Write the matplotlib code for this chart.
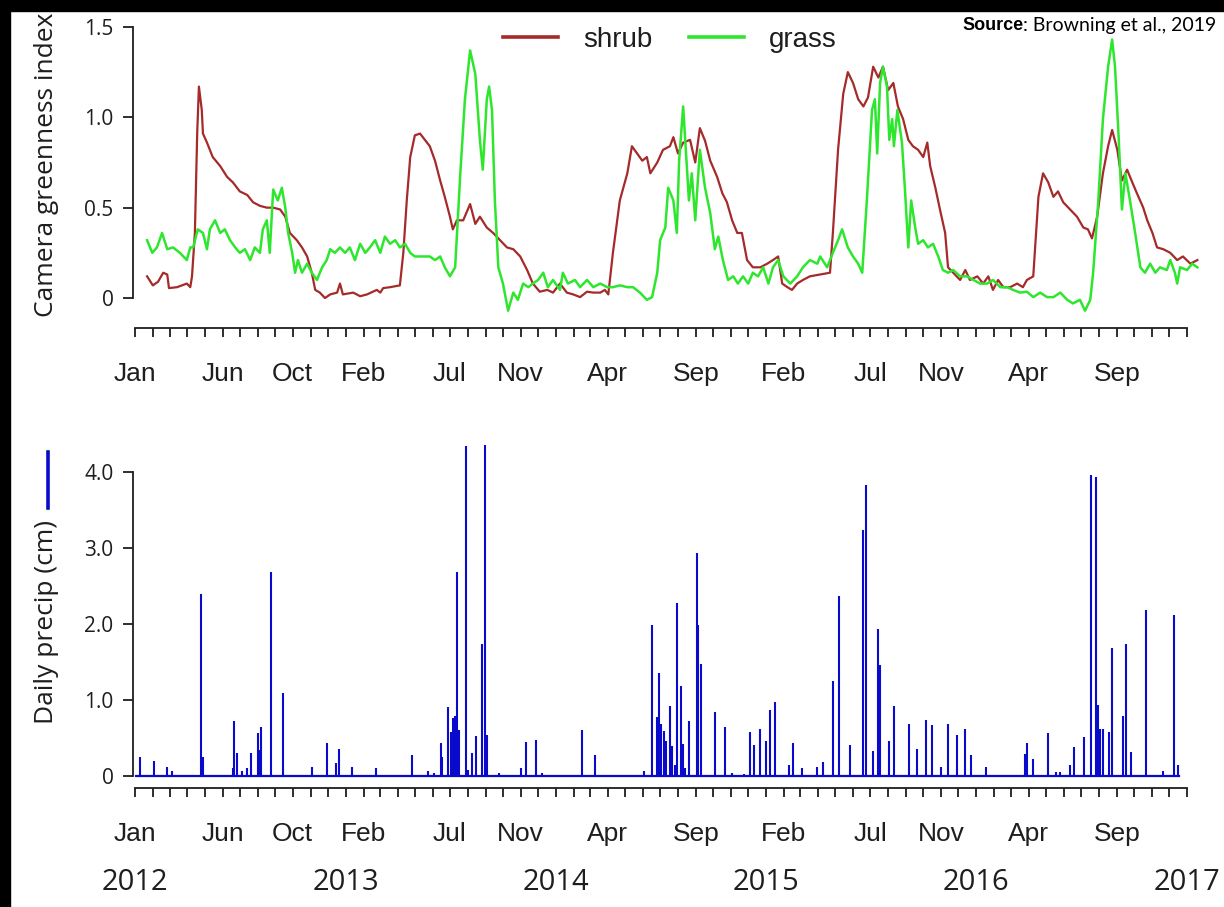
import numpy as np
import pandas as pd
import matplotlib
matplotlib.use("Agg")
import matplotlib.pyplot as plt
from matplotlib.patches import Rectangle
from matplotlib.lines import Line2D
from matplotlib.transforms import blended_transform_factory

# x values are days since 2012-01-01
shrub_day = [21, 31, 40, 49, 56, 59, 73, 90, 96, 99, 104, 108, 111, 116, 118, 125, 135, 148, 160, 170,
             182, 195, 205, 217, 229, 240, 252, 261, 269, 281, 290, 299, 307, 313, 321, 330, 339, 351,
             356, 361, 379, 391, 403, 413, 420, 426, 431, 443, 460, 466, 472, 478, 486, 495, 512, 521,
             530, 538, 547, 552, 559, 570, 582, 591, 599, 611, 622, 634, 646, 657, 669, 681, 691, 703,
             716, 726, 738, 750, 761, 773, 785, 796, 808, 816, 822, 830, 842, 855, 863, 872, 881, 889,
             895, 907, 917, 929, 935, 943, 952, 964, 973, 981, 990, 999, 1011, 1020, 1028, 1037, 1046,
             1054, 1063, 1073, 1086, 1098, 1108, 1117, 1124, 1133, 1141, 1150, 1160, 1172, 1190, 1207,
             1212, 1221, 1230, 1238, 1247, 1256, 1265, 1273, 1282, 1291, 1299, 1308, 1317, 1325, 1334,
             1343, 1351, 1360, 1369, 1376, 1381, 1390, 1398, 1407, 1412, 1421, 1433, 1442, 1450, 1463,
             1473, 1482, 1490, 1499, 1508, 1520, 1532, 1542, 1549, 1560, 1569, 1577, 1586, 1595, 1603,
             1612, 1624, 1636, 1647, 1655, 1662, 1671, 1681, 1690, 1697, 1706, 1714, 1723, 1732, 1740,
             1751, 1758, 1767, 1775, 1786, 1798, 1810, 1820, 1833, 1845]
shrub_val = [0.12, 0.07, 0.09, 0.14, 0.13, 0.055, 0.06, 0.08, 0.06, 0.12, 0.36, 0.91, 1.17, 1.04, 0.91,
             0.86, 0.78, 0.73, 0.67, 0.64, 0.59, 0.57, 0.53, 0.51, 0.50, 0.50, 0.49, 0.45, 0.36, 0.32,
             0.28, 0.23, 0.14, 0.045, 0.03, 0.0, 0.02, 0.03, 0.08, 0.02, 0.03, 0.01, 0.02, 0.035, 0.045,
             0.03, 0.055, 0.06, 0.07, 0.25, 0.54, 0.78, 0.90, 0.91, 0.84, 0.76, 0.65, 0.56, 0.45, 0.38,
             0.43, 0.43, 0.52, 0.41, 0.45, 0.39, 0.36, 0.32, 0.28, 0.27, 0.23, 0.155, 0.08, 0.035, 0.045,
             0.03, 0.08, 0.03, 0.02, 0.005, 0.035, 0.03, 0.03, 0.045, 0.02, 0.25, 0.54, 0.69, 0.84, 0.80,
             0.76, 0.78, 0.69, 0.75, 0.82, 0.84, 0.89, 0.80, 0.86, 0.875, 0.75, 0.94, 0.87, 0.76, 0.67,
             0.58, 0.53, 0.43, 0.36, 0.36, 0.21, 0.17, 0.17, 0.19, 0.21, 0.23, 0.08, 0.06, 0.045, 0.08,
             0.10, 0.12, 0.13, 0.14, 0.36, 0.82, 1.13, 1.25, 1.19, 1.10, 1.06, 1.11, 1.28, 1.22, 1.28,
             1.15, 1.19, 1.06, 0.99, 0.875, 0.84, 0.82, 0.78, 0.86, 0.73, 0.61, 0.49, 0.36, 0.17, 0.14,
             0.10, 0.155, 0.10, 0.12, 0.08, 0.12, 0.045, 0.10, 0.06, 0.06, 0.08, 0.06, 0.10, 0.12, 0.56,
             0.69, 0.64, 0.56, 0.59, 0.53, 0.49, 0.45, 0.39, 0.38, 0.33, 0.45, 0.69, 0.84, 0.93, 0.82,
             0.65, 0.71, 0.64, 0.58, 0.50, 0.43, 0.36, 0.28, 0.27, 0.25, 0.21, 0.23, 0.19, 0.21]

grass_day = [21, 30, 38, 47, 56, 66, 78, 90, 96, 101, 109, 118, 125, 130, 139, 148, 156, 165, 174, 182,
             191, 200, 208, 217, 222, 229, 234, 240, 248, 255, 261, 266, 273, 278, 283, 290, 299, 307,
             316, 325, 333, 339, 347, 356, 365, 373, 382, 391, 400, 408, 417, 426, 434, 443, 452, 460,
             469, 478, 486, 495, 512, 521, 530, 538, 547, 556, 565, 573, 582, 591, 599, 604, 611, 615,
             620, 625, 631, 639, 648, 657, 665, 674, 683, 691, 700, 709, 717, 726, 738, 743, 752, 764,
             773, 785, 796, 808, 820, 830, 842, 855, 865, 877, 889, 898, 907, 912, 921, 926, 935, 941,
             945, 952, 959, 962, 967, 973, 981, 990, 999, 1007, 1013, 1021, 1030, 1039, 1047, 1056,
             1065, 1073, 1082, 1091, 1100, 1108, 1117, 1126, 1138, 1150, 1160, 1172, 1185, 1190, 1202,
             1212, 1221, 1228, 1238, 1247, 1256, 1263, 1271, 1280, 1285, 1289, 1294, 1299, 1306, 1310,
             1315, 1318, 1324, 1332, 1337, 1343, 1348, 1355, 1360, 1369, 1377, 1386, 1395, 1403, 1412,
             1421, 1433, 1445, 1456, 1468, 1480, 1490, 1503, 1515, 1525, 1537, 1549, 1560, 1572, 1584,
             1595, 1607, 1619, 1629, 1641, 1650, 1659, 1664, 1673, 1681, 1690, 1697, 1702, 1708, 1714,
             1720, 1728, 1737, 1746, 1754, 1763, 1772, 1780, 1792, 1798, 1806, 1810, 1815, 1827, 1836,
             1845]
grass_val = [0.32, 0.25, 0.28, 0.36, 0.27, 0.28, 0.25, 0.21, 0.28, 0.28, 0.38, 0.36, 0.27, 0.38, 0.43,
             0.36, 0.38, 0.32, 0.28, 0.25, 0.27, 0.21, 0.28, 0.25, 0.38, 0.43, 0.25, 0.60, 0.54, 0.61,
             0.50, 0.36, 0.25, 0.14, 0.21, 0.14, 0.19, 0.14, 0.10, 0.17, 0.21, 0.27, 0.25, 0.28, 0.25,
             0.28, 0.21, 0.30, 0.25, 0.28, 0.32, 0.25, 0.34, 0.30, 0.32, 0.28, 0.30, 0.25, 0.23, 0.23,
             0.23, 0.21, 0.23, 0.17, 0.12, 0.17, 0.69, 1.10, 1.37, 1.24, 0.875, 0.71, 1.10, 1.17, 1.04,
             0.54, 0.17, 0.08, -0.07, 0.03, -0.01, 0.08, 0.06, 0.08, 0.10, 0.14, 0.06, 0.10, 0.045, 0.14,
             0.08, 0.10, 0.06, 0.10, 0.06, 0.08, 0.06, 0.06, 0.07, 0.06, 0.06, 0.03, -0.01, 0.005, 0.14,
             0.32, 0.39, 0.61, 0.54, 0.36, 0.76, 1.06, 0.69, 0.54, 0.69, 0.43, 0.82, 0.61, 0.47, 0.27,
             0.34, 0.21, 0.10, 0.12, 0.08, 0.12, 0.08, 0.14, 0.12, 0.17, 0.08, 0.17, 0.21, 0.12, 0.08,
             0.12, 0.17, 0.21, 0.19, 0.23, 0.17, 0.25, 0.32, 0.38, 0.28, 0.23, 0.19, 0.14, 0.54, 1.04,
             1.10, 0.80, 1.19, 1.28, 1.17, 0.875, 0.99, 0.84, 1.04, 0.86, 0.61, 0.28, 0.54, 0.39, 0.30,
             0.32, 0.28, 0.30, 0.23, 0.155, 0.14, 0.155, 0.12, 0.12, 0.10, 0.08, 0.08, 0.10, 0.06, 0.06,
             0.045, 0.03, 0.035, 0.005, 0.03, 0.005, 0.005, 0.03, -0.01, -0.03, -0.01, -0.07, -0.01,
             0.14, 0.54, 0.99, 1.28, 1.43, 1.28, 0.91, 0.49, 0.69, 0.54, 0.36, 0.17, 0.14, 0.19, 0.14,
             0.17, 0.155, 0.21, 0.14, 0.08, 0.17, 0.155, 0.19, 0.17]

rain_day = [9, 33, 55, 64, 114, 118, 171, 172, 177, 186, 195, 202, 213, 217, 219, 236, 257, 308, 334,
            349, 354, 377, 418, 481, 508, 519, 531, 534, 543, 548, 553, 556, 560, 563, 574, 579, 586,
            592, 602, 607, 612, 632, 670, 679, 697, 707, 776, 799, 884, 898, 906, 910, 913, 918, 923,
            929, 932, 937, 942, 948, 951, 955, 963, 976, 978, 983, 1008, 1024, 1036, 1058, 1068, 1075,
            1085, 1095, 1103, 1111, 1136, 1143, 1159, 1185, 1195, 1213, 1223, 1241, 1265, 1270, 1282,
            1291, 1293, 1309, 1318, 1345, 1358, 1374, 1385, 1400, 1412, 1427, 1442, 1452, 1478, 1546,
            1550, 1560, 1585, 1600, 1606, 1623, 1630, 1648, 1660, 1669, 1672, 1676, 1681, 1691, 1697,
            1716, 1721, 1730, 1756, 1786, 1804, 1811]
rain_cm = [0.245, 0.20, 0.12, 0.07, 2.39, 0.25, 0.10, 0.73, 0.30, 0.07, 0.10, 0.30, 0.56, 0.34, 0.65,
           2.69, 1.09, 0.12, 0.43, 0.17, 0.35, 0.12, 0.10, 0.28, 0.07, 0.04, 0.43, 0.25, 0.91, 0.58,
           0.76, 0.79, 2.69, 0.60, 4.34, 0.08, 0.30, 0.53, 1.74, 4.36, 0.54, 0.04, 0.10, 0.45, 0.47,
           0.035, 0.60, 0.28, 0.06, 1.99, 0.77, 1.35, 0.68, 0.59, 0.46, 0.92, 0.40, 0.15, 2.27, 1.18,
           0.42, 0.11, 0.72, 2.93, 1.99, 1.48, 0.84, 0.64, 0.04, 0.03, 0.58, 0.41, 0.62, 0.46, 0.87,
           0.97, 0.15, 0.44, 0.10, 0.12, 0.18, 1.25, 2.37, 0.41, 3.24, 3.83, 0.33, 1.94, 1.46, 0.46,
           0.92, 0.69, 0.35, 0.74, 0.67, 0.12, 0.69, 0.54, 0.62, 0.28, 0.12, 0.29, 0.44, 0.23, 0.56,
           0.05, 0.05, 0.15, 0.38, 0.51, 3.96, 3.93, 0.94, 0.62, 0.62, 0.58, 1.68, 0.79, 1.74, 0.31,
           2.19, 0.07, 2.12, 0.15]
rain_record = ["2012-01-03", "2016-12-18"]

labelled_months = ["2012-01", "2012-06", "2012-10", "2013-02", "2013-07", "2013-11", "2014-04",
                   "2014-09", "2015-02", "2015-07", "2015-11", "2016-04", "2016-09"]
years = [2012, 2013, 2014, 2015, 2016, 2017]

SHRUB = "#a52a2a"
GRASS = "#2ee62e"
BLUE = "#0a0acd"
INK = "#1e1e1e"

start = pd.Timestamp("2012-01-01")
months = pd.date_range("2012-01-01", "2017-01-01", freq="MS")
month_pos = (months - start).days.values
month_lab = [d.strftime("%b") if d.strftime("%Y-%m") in labelled_months else "" for d in months]
year_pos = [(pd.Timestamp(f"{y}-01-01") - start).days for y in years]

W, H = 1224, 907
fig = plt.figure(figsize=(W / 100, H / 100), dpi=100)
ax1 = fig.add_axes([133 / W, 1 - 316.1 / H, 1067 / W, 298.2 / H])
ax2 = fig.add_axes([133 / W, 1 - 783.6 / H, 1067 / W, 345.8 / H])

xlim = (-3.47, 1849.6)


def style(ax, ymax, yticks, ylabels, spine_y):
    for s in ["top", "right"]:
        ax.spines[s].set_visible(False)
    for s in ["left", "bottom"]:
        ax.spines[s].set_linewidth(1.3)
        ax.spines[s].set_color(INK)
    ax.spines["left"].set_bounds(0, ymax)
    ax.spines["bottom"].set_position(("data", spine_y))
    ax.spines["bottom"].set_bounds(month_pos[0], month_pos[-1])
    ax.set_xlim(*xlim)
    ax.set_xticks(month_pos)
    ax.set_xticklabels(month_lab, fontfamily="Liberation Sans", fontsize=19, color=INK)
    ax.tick_params(axis="x", length=6.5, width=1.3, pad=18, color=INK)
    ax.set_yticks(yticks)
    ax.set_yticklabels(ylabels, fontfamily="Open Sans", fontsize=15, color=INK)
    ax.tick_params(axis="y", length=7, width=1.3, pad=7, color=INK)


# greenness panel
ax1.plot(shrub_day, shrub_val, color=SHRUB, lw=1.6, label="shrub")
ax1.plot(grass_day, grass_val, color=GRASS, lw=1.8, label="grass")
ax1.set_ylim(-0.1, 1.55)
style(ax1, 1.5, [0, 0.5, 1.0, 1.5], ["0", "0.5", "1.0", "1.5"], -0.166)
leg = ax1.legend(loc="center", bbox_to_anchor=(0.503, 0.926), ncol=2, frameon=False,
                 prop={"family": "Liberation Sans", "size": 20}, handlelength=2.0,
                 handletextpad=0.9, columnspacing=1.3)
for h in leg.legend_handles:
    h.set_linewidth(2.6)
for t in leg.get_texts():
    t.set_color(INK)

# precipitation panel
rec = [(pd.Timestamp(d) - start).days for d in rain_record]
ax2.plot(rec, [0, 0], color=BLUE, lw=1.6)
ax2.vlines(rain_day, 0, rain_cm, color=BLUE, lw=1.5)
ax2.set_ylim(-0.1, 4.45)
style(ax2, 4.0, [0, 1, 2, 3, 4], ["0", "1.0", "2.0", "3.0", "4.0"], -0.158)

yr_tr = blended_transform_factory(ax2.transData, fig.transFigure)
for y, p in zip(years, year_pos):
    ax2.text(p, 1 - 882 / H, str(y), transform=yr_tr, ha="center", va="center",
             fontfamily="Open Sans", fontsize=21, color=INK)

fig.text(47 / W, 1 - 165 / H, "Camera greenness index", rotation=90, ha="center", va="center",
         fontfamily="Open Sans", fontsize=19, color=INK)
fig.text(47 / W, 1 - 622 / H, "Daily precip (cm)", rotation=90, ha="center", va="center",
         fontfamily="Open Sans", fontsize=19, color=INK)
fig.add_artist(Line2D([48 / W, 48 / W], [1 - 452 / H, 1 - 508 / H], color=BLUE, lw=2.6))

src = fig.text(962 / W, 1 - 30 / H, "Source", fontfamily="Liberation Sans", fontweight="bold",
               fontsize=13, va="baseline", color="black")
ax1.annotate(": Browning et al., 2019", xy=(1, 0), xycoords=src, ha="left", va="bottom",
             fontfamily="Lato", fontsize=14, color="black", annotation_clip=False)

# black frame edges of the screenshot
fig.add_artist(Rectangle((0, 1 - 11 / H), 1, 11 / H, transform=fig.transFigure,
                         color="black", zorder=10))
fig.add_artist(Rectangle((0, 0), 10 / W, 1, transform=fig.transFigure, color="black", zorder=10))

fig.savefig("out.png", dpi=100)
